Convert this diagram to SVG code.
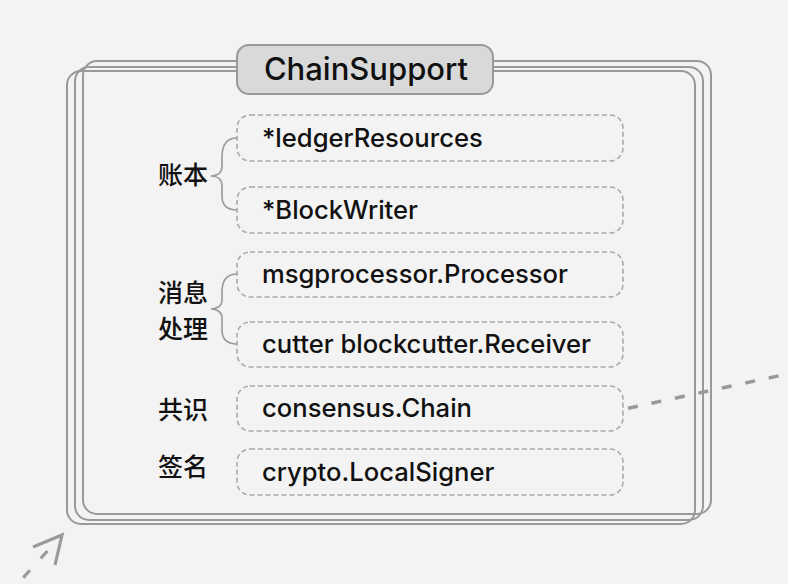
<svg xmlns="http://www.w3.org/2000/svg" width="788" height="584" viewBox="0 0 788 584">
  <style>
    .frame { fill: none; stroke: #999; stroke-width: 2; }
    .title { fill: #d9d9d9; stroke: #999; stroke-width: 2; }
    .item { fill: none; stroke: #aaa; stroke-width: 1.6; stroke-dasharray: 5 3; }
    .t { font-family: Inter, "Liberation Sans", "Noto Sans CJK SC", sans-serif; font-size: 25.6px; font-weight: 500; fill: #111; }
    .tt { font-family: Inter, "Liberation Sans", sans-serif; font-size: 31px; font-weight: 500; fill: #111; }
    .cn { font-family: "Noto Sans CJK SC", sans-serif; font-size: 25px; font-weight: 500; fill: #111; }
    .brace { fill: none; stroke: #999; stroke-width: 1.6; }
    .link { fill: none; stroke: #999; stroke-width: 3.5; stroke-dasharray: 10 14; }
    .arrow { fill: none; stroke: #9a9a9a; stroke-width: 3.2; }
  </style>
  <rect width="788" height="584" fill="#f3f3f3"/>

  <g id="chainsupport-frame">
    <rect class="frame" x="83" y="61" width="628" height="453" rx="14"/>
    <rect class="frame" x="75" y="67" width="628" height="453" rx="14"/>
    <rect class="frame" x="67" y="71" width="628" height="453" rx="14"/>
  </g>

  <g id="title">
    <rect class="title" x="237" y="45" width="256" height="49" rx="12"/>
    <text class="tt" x="366" y="80" text-anchor="middle">ChainSupport</text>
  </g>

  <g id="label-ledger"><text class="cn" x="158" y="184">账本</text></g>
  <g id="label-msg"><text class="cn" x="158" y="302">消息</text><text class="cn" x="158" y="338">处理</text></g>
  <g id="label-consensus"><text class="cn" x="158" y="419">共识</text></g>
  <g id="label-sign"><text class="cn" x="158" y="476">签名</text></g>

  <g id="node-ledgerResources">
    <rect class="item" x="237" y="115" width="386" height="46" rx="13"/>
    <text class="t" x="262" y="147">*ledgerResources</text>
  </g>
  <g id="node-BlockWriter">
    <rect class="item" x="237" y="187" width="386" height="46" rx="13"/>
    <text class="t" x="262" y="219">*BlockWriter</text>
  </g>
  <g id="node-Processor">
    <rect class="item" x="237" y="252" width="386" height="45" rx="13"/>
    <text class="t" x="262" y="283">msgprocessor.Processor</text>
  </g>
  <g id="node-Receiver">
    <rect class="item" x="237" y="322" width="386" height="45" rx="13"/>
    <text class="t" x="262" y="353">cutter blockcutter.Receiver</text>
  </g>
  <g id="node-Chain">
    <rect class="item" x="237" y="386" width="386" height="45" rx="13"/>
    <text class="t" x="262" y="417">consensus.Chain</text>
  </g>
  <g id="node-LocalSigner">
    <rect class="item" x="237" y="449" width="386" height="46" rx="13"/>
    <text class="t" x="262" y="481">crypto.LocalSigner</text>
  </g>

  <g id="connectors">
    <path class="brace" d="M237,138 C226,138 222,145 222,157 L222,166 C222,173 217,176 211,176 C217,176 222,179 222,186 L222,196 C222,205 226,210 237,210"/>
    <path class="brace" d="M237,274 C226,274 222,281 222,292 L222,300 C222,306 217,309 211,309 C217,309 222,312 222,318 L222,330 C222,339 226,344 237,344"/>
    <path class="link" d="M628,408.3 L795,372.3"/>
    <path class="arrow" d="M62,535 L12,590" stroke-dasharray="0 21.6 10 16 10 16 10 16"/>
    <path class="arrow" d="M33,547 L62,535 L55,565"/>
  </g>
</svg>
